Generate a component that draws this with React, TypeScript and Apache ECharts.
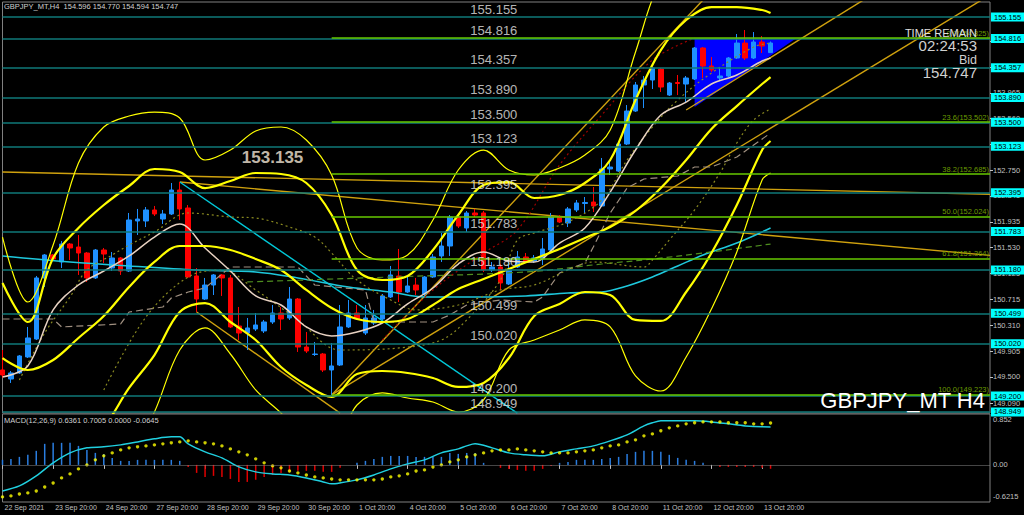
import React, { useEffect, useRef } from 'react';
import * as echarts from 'echarts';

// ---------- data ----------
const tickLabels = ['22 Sep 2021', '23 Sep 20:00', '24 Sep 20:00', '27 Sep 20:00', '28 Sep 20:00', '29 Sep 20:00', '30 Sep 20:00', '1 Oct 20:00', '4 Oct 20:00', '5 Oct 20:00', '6 Oct 20:00', '7 Oct 20:00', '8 Oct 20:00', '11 Oct 20:00', '12 Oct 20:00', '13 Oct 20:00'];
const barsPerTick = 6;
const slotCount = 118;

const opens = [149.609, 149.467, 149.562, 149.813, 150.096, 151.055, 151.416, 151.306, 151.588, 151.541, 151.447, 151.055, 151.494, 151.211, 151.369, 151.164, 151.950, 151.950, 152.123, 151.981, 152.060, 152.437, 152.154, 151.086, 150.724, 150.944, 151.102, 151.055, 150.300, 150.190, 150.253, 150.222, 150.363, 150.504, 150.426, 150.724, 149.970, 149.852, 149.860, 149.609, 149.687, 150.285, 150.504, 150.190, 150.347, 150.410, 150.756, 151.086, 150.834, 150.944, 150.803, 151.070, 151.400, 151.557, 152.013, 151.840, 152.076, 152.076, 151.180, 151.227, 150.960, 151.227, 151.384, 151.321, 151.353, 151.494, 152.013, 151.918, 152.123, 152.225, 152.248, 152.186, 152.767, 152.735, 153.160, 153.678, 154.087, 154.165, 154.338, 153.929, 154.126, 154.102, 154.181, 154.668, 154.385, 154.197, 154.228, 154.511, 154.746, 154.511, 154.762, 154.596];
const highs = [149.923, 149.593, 149.844, 150.285, 151.086, 151.431, 151.431, 151.636, 151.604, 151.730, 151.463, 151.510, 151.526, 151.463, 151.384, 152.076, 152.139, 152.170, 152.186, 152.123, 152.547, 152.563, 152.201, 151.211, 151.055, 151.117, 151.117, 151.102, 150.599, 150.426, 150.504, 150.395, 150.630, 150.599, 150.913, 150.740, 150.206, 150.049, 149.876, 150.033, 150.630, 150.709, 150.630, 150.630, 150.552, 150.803, 151.243, 151.510, 151.070, 151.055, 151.086, 151.431, 151.761, 152.044, 152.076, 152.107, 152.139, 152.107, 151.306, 151.274, 151.369, 151.479, 151.447, 151.416, 151.683, 152.076, 152.044, 152.170, 152.280, 152.327, 152.484, 152.940, 152.908, 153.175, 153.772, 154.134, 154.228, 154.369, 154.354, 154.134, 154.244, 154.228, 154.684, 154.684, 154.527, 154.369, 154.527, 154.888, 154.951, 154.919, 154.856, 154.770];
const lows = [149.483, 149.405, 149.546, 149.797, 150.080, 150.913, 151.337, 151.211, 151.337, 151.102, 150.992, 151.039, 151.290, 151.164, 151.102, 151.149, 151.730, 151.855, 152.028, 151.903, 152.044, 151.966, 151.055, 150.520, 150.709, 150.787, 150.772, 150.269, 150.080, 149.923, 150.222, 150.190, 150.332, 150.237, 150.395, 149.892, 149.876, 149.829, 149.577, 149.217, 149.672, 150.269, 150.395, 150.159, 150.316, 150.395, 150.740, 150.677, 150.819, 150.787, 150.772, 151.055, 151.306, 151.400, 151.840, 151.777, 152.013, 151.149, 151.149, 150.866, 150.944, 151.211, 151.290, 151.290, 151.259, 151.463, 151.918, 151.855, 152.091, 152.076, 152.091, 152.170, 152.673, 152.720, 153.144, 153.663, 153.725, 154.024, 153.977, 153.914, 153.929, 153.804, 154.165, 154.197, 154.291, 154.165, 154.212, 154.495, 154.479, 154.495, 154.589, 154.594];
const closes = [149.530, 149.562, 149.829, 150.112, 151.055, 151.416, 151.353, 151.588, 151.526, 151.447, 151.055, 151.494, 151.431, 151.369, 151.164, 151.966, 151.981, 152.123, 152.060, 152.060, 152.437, 152.139, 151.070, 150.724, 150.944, 151.102, 151.055, 150.285, 150.190, 150.269, 150.316, 150.363, 150.504, 150.410, 150.724, 149.970, 149.907, 149.860, 149.609, 149.672, 150.285, 150.504, 150.410, 150.426, 150.426, 150.772, 151.102, 150.834, 150.929, 150.866, 151.070, 151.384, 151.557, 152.013, 151.871, 152.076, 152.044, 151.180, 151.227, 150.976, 151.180, 151.384, 151.306, 151.369, 151.510, 152.013, 151.934, 152.139, 152.233, 152.241, 152.186, 152.767, 152.798, 153.160, 153.678, 154.087, 154.165, 154.354, 154.055, 154.118, 154.110, 154.197, 154.668, 154.385, 154.322, 154.228, 154.511, 154.746, 154.511, 154.762, 154.699, 154.747];

// Bollinger-type bands, read every 3 bars
const bbIdx = [0, 3, 6, 9, 12, 15, 18, 21, 24, 27, 30, 33, 36, 39, 42, 45, 48, 51, 54, 57, 60, 63, 66, 69, 72, 75, 78, 81, 84, 87, 90, 91];
const bbMid = [149.797, 149.609, 149.766, 150.112, 150.457, 150.913, 151.306, 151.557, 151.557, 151.494, 151.353, 151.180, 150.866, 150.583, 150.410, 150.363, 150.410, 150.630, 150.881, 151.039, 151.196, 151.353, 151.510, 151.683, 151.855, 152.107, 152.468, 152.908, 153.395, 153.756, 154.102, 154.212];
const bbUp2 = [150.976, 150.363, 151.369, 151.840, 152.201, 152.500, 152.767, 152.720, 152.468, 152.578, 152.704, 152.688, 152.547, 152.044, 151.180, 151.023, 151.086, 151.494, 152.044, 152.515, 152.563, 152.311, 152.358, 152.547, 152.908, 153.851, 154.636, 155.108, 155.312, 155.312, 155.265, 155.218];
const bbLow2 = [148.619, 148.855, 148.320, 148.383, 148.713, 149.327, 149.844, 150.520, 150.661, 150.363, 150.080, 149.656, 149.373, 149.185, 149.546, 149.593, 149.562, 149.483, 149.342, 149.405, 149.797, 150.457, 150.646, 150.834, 150.787, 150.395, 150.379, 150.834, 151.447, 152.201, 153.065, 153.207];
const bbUp3 = [151.698, 150.677, 151.573, 152.861, 153.427, 153.600, 153.662, 153.568, 152.908, 153.065, 153.364, 153.427, 153.222, 152.673, 151.526, 151.337, 151.416, 151.966, 152.751, 153.065, 152.751, 152.673, 152.783, 152.987, 153.380, 154.605, 155.736, 156.050, 156.208, 156.129, 155.736, 155.721];
const bbLow3 = [147.896, 148.541, 147.959, 147.347, 147.503, 148.211, 148.949, 149.923, 150.269, 149.860, 149.295, 148.933, 148.509, 148.415, 149.059, 149.248, 149.169, 149.106, 148.949, 149.138, 149.923, 150.080, 150.237, 150.395, 150.285, 149.515, 149.279, 149.813, 150.567, 151.463, 152.594, 152.704];
const fastMa = [149.499, 149.672, 150.552, 150.944, 151.164, 151.400, 151.698, 151.903, 151.526, 151.164, 150.772, 150.630, 150.285, 150.143, 150.206, 150.347, 150.646, 150.897, 151.274, 151.463, 151.321, 151.306, 151.604, 151.840, 152.405, 153.065, 153.615, 153.819, 154.102, 154.244, 154.464, 154.511];

const slowMaIdx = [0, 8, 15, 23, 30, 35, 41, 46, 50, 55, 62, 67, 71, 74, 77, 80, 83, 87, 91];
const slowMa = [151.400, 151.306, 151.243, 151.180, 151.149, 151.055, 150.913, 150.834, 150.756, 150.756, 150.772, 150.819, 150.834, 150.929, 151.070, 151.243, 151.416, 151.604, 151.840];
const greenMaIdx = [29, 46, 62, 71, 77, 83, 91];
const greenMa = [150.992, 151.070, 151.149, 151.274, 151.353, 151.447, 151.588];
const stepLineIdx = [0, 6, 7, 14, 15, 19, 20, 22, 24, 27, 35, 37, 43, 44, 51, 53, 55, 59, 63, 64, 66, 69, 70, 72, 74, 76, 80, 82, 84, 87, 91];
const stepLine = [150.410, 150.410, 150.285, 150.332, 150.520, 150.599, 150.740, 150.834, 150.897, 151.227, 151.227, 150.944, 150.866, 150.363, 150.363, 150.473, 150.630, 150.709, 150.677, 150.756, 151.133, 151.290, 151.541, 152.076, 152.468, 152.610, 152.657, 152.798, 152.798, 152.955, 153.332];
const dotAIdx = [2, 5, 8, 10, 13, 15, 18, 22, 27, 30, 34, 37, 39, 42, 46, 49, 54, 59, 63, 67, 70, 76, 77, 79, 82, 85, 87, 89, 91];
const dotA = [149.452, 150.190, 150.756, 151.180, 151.416, 151.573, 151.777, 152.076, 152.013, 151.997, 151.855, 151.698, 151.447, 151.023, 150.709, 150.552, 150.630, 150.866, 150.944, 151.180, 151.306, 151.227, 151.337, 151.651, 152.123, 152.704, 153.175, 153.537, 153.710];
const dotBIdx = [12, 17, 22, 26, 30, 35, 40, 47, 52, 55, 59, 61, 63, 67, 71, 74, 77, 80, 84, 89, 91];
const dotB = [149.295, 150.442, 151.070, 151.180, 150.866, 150.395, 149.923, 149.955, 150.080, 150.395, 151.023, 151.651, 151.761, 151.934, 152.280, 152.908, 153.427, 153.851, 154.275, 154.684, 154.746];
const redDotIdx = [45, 51, 57, 61, 66, 71, 77, 82];
const redDot = [150.080, 150.866, 151.447, 151.808, 152.830, 153.615, 154.479, 154.825];

// horizontal levels, fibonacci
const levels = [155.155, 154.816, 154.357, 153.890, 153.500, 153.123, 152.395, 151.783, 151.180, 150.499, 150.020, 149.200, 148.949];
const fibRatios = [0.0, 23.6, 38.2, 50.0, 61.8, 100.0];
const fibPrices = [154.825, 153.502, 152.685, 152.024, 151.364, 149.223];
const fibStartIdx = 39;
const bidPrice = 154.747;

// trendlines: [x0, y0, x1, y1]
const goldLines = [
  [0, 152.720, 117, 152.370],
  [21, 152.563, 117, 151.410],
  [39, 149.217, 115.8, 155.422],
  [39, 149.217, 82.6, 155.422],
  [23, 150.520, 39.5, 148.930],
  [80.8, 153.694, 101.5, 155.422],
];
const cyanLine = [21, 152.563, 60.5, 148.930];
const triIdx = [82, 94.3, 82];
const triPrice = [154.816, 154.816, 153.741];

const priceTicks = [149.090, 149.500, 149.905, 150.310, 150.715, 151.125, 151.530, 151.935, 152.345, 152.750, 153.155, 153.560, 153.965, 154.370, 154.780];
const yMin = 148.933;
const yMax = 155.391;

// MACD pane
const macdMin = -0.6215;
const macdMax = 0.852;
const macdLabelInset = 0.085;
const macdIdx = [0, 2, 4, 6, 8, 10, 12, 14, 16, 18, 20, 21, 22, 24, 26, 28, 30, 32, 34, 36, 38, 39, 40, 42, 44, 46, 48, 50, 52, 54, 55, 56, 58, 60, 62, 64, 66, 68, 70, 72, 74, 76, 77, 78, 80, 82, 84, 86, 88, 90, 91];
const macdMain = [-0.436, -0.352, -0.184, 0.034, 0.201, 0.285, 0.302, 0.335, 0.385, 0.436, 0.469, 0.469, 0.352, 0.218, 0.117, -0.034, -0.117, -0.151, -0.168, -0.218, -0.285, -0.318, -0.302, -0.251, -0.168, -0.067, 0.017, 0.084, 0.201, 0.268, 0.318, 0.352, 0.285, 0.201, 0.168, 0.151, 0.218, 0.268, 0.318, 0.402, 0.503, 0.653, 0.704, 0.737, 0.737, 0.737, 0.720, 0.687, 0.653, 0.637, 0.636];
const macdSignal = [-0.536, -0.519, -0.486, -0.469, -0.436, -0.369, -0.302, -0.218, -0.151, -0.067, 0.000, 0.084, 0.151, 0.201, 0.251, 0.285, 0.302, 0.318, 0.335, 0.352, 0.369, 0.385, 0.402, 0.385, 0.369, 0.352, 0.318, 0.268, 0.218, 0.168, 0.101, 0.034, -0.017, -0.050, -0.101, -0.134, -0.168, -0.201, -0.218, -0.235, -0.251, -0.251, -0.251, -0.251, -0.251, -0.235, -0.201, -0.184, -0.151, -0.101, -0.084, -0.034, 0.000, 0.050, 0.084, 0.134, 0.168, 0.201, 0.235, 0.251, 0.251, 0.268, 0.251, 0.235, 0.218, 0.201, 0.201, 0.201, 0.218, 0.235, 0.251, 0.285, 0.318, 0.335, 0.385, 0.419, 0.486, 0.519, 0.570, 0.620, 0.653, 0.687, 0.704, 0.720, 0.720, 0.720, 0.704, 0.704, 0.704, 0.687, 0.687, 0.700];
const macdHist = [0.084, 0.1, 0.134, 0.168, 0.235, 0.352, 0.369, 0.369, 0.369, 0.318, 0.251, 0.201, 0.184, 0.117, 0.067, 0.067, 0.084, 0.084, 0.084, 0.084, 0.084, 0.067, -0.034, -0.134, -0.201, -0.184, -0.201, -0.235, -0.285, -0.285, -0.251, -0.201, -0.168, -0.134, -0.117, -0.1, -0.1, -0.1, -0.117, -0.117, -0.05, 0, 0.034, 0.067, 0.1, 0.134, 0.15, 0.15, 0.15, 0.134, 0.134, 0.134, 0.134, 0.2, 0.184, 0.2, 0.2, 0.034, 0, -0.05, -0.067, -0.084, -0.1, -0.1, -0.067, -0.017, 0.034, 0.05, 0.084, 0.084, 0.084, 0.1, 0.117, 0.134, 0.184, 0.218, 0.235, 0.235, 0.218, 0.168, 0.117, 0.084, 0.067, 0.034, 0, -0.034, -0.034, -0.034, -0.034, -0.034, -0.05, -0.065];

// texts
const headerText = 'GBPJPY_MT,H4  154.596 154.770 154.594 154.747';
const macdText = 'MACD(12,26,9) 0.6361 0.7005 0.0000 -0.0645';
const noteText = '153.135';
const noteIdx = 31.7;
const notePrice = 152.955;
const levelTextIdx = 61;

// ---------- styling ----------
const FONT = '"Liberation Sans", Arial, sans-serif';
const BULL = '#1E90FF';
const BEAR = '#FF0000';
const TEAL = '#0f7878';
const FIB = '#66c800';
const FIB_TEXT = '#6b9b00';
const YEL = '#ffff00';
const GOLD = '#cfa10e';
const AXIS_TXT = '#c0c0c0';

const pairs = (idx: number[], vals: number[]) => idx.map((k, i) => [k, vals[i]]);

const mkLine = (idx: number[], vals: number[], color: string, width: number, type: any = 'solid', z = 4, smooth: any = 0.35) => ({
  type: 'line', xAxisIndex: 0, yAxisIndex: 0, z, smooth, symbol: 'none', showSymbol: false, silent: true,
  clip: true, data: pairs(idx, vals), lineStyle: { color, width, type },
});

const buildOption = () => {
  const categories = Array.from({ length: slotCount }, (_, i) => String(i));
  const tickFn = (i: number) => i % barsPerTick === 0 && i / barsPerTick < tickLabels.length;

  const series: any[] = [];

  // horizontal levels (behind candles) with cyan axis boxes
  series.push({
    type: 'line', xAxisIndex: 0, yAxisIndex: 0, z: 1, symbol: 'none', silent: true,
    data: closes.map((c, i) => [i, c]), lineStyle: { opacity: 0 },
    markLine: {
      silent: true, symbol: 'none', animation: false, precision: 3,
      lineStyle: { color: TEAL, width: 1.5, type: 'solid' },
      label: {
        show: true, position: 'end', distance: 1, formatter: (p: any) => Number(p.value).toFixed(3),
        backgroundColor: '#00ffff', color: '#000', fontSize: 7.5, fontFamily: FONT, padding: [1, 3, 0, 3],
      },
      data: levels.map((v) => ({ yAxis: v })),
    },
  });
  // bid label (white, under the cyan boxes)
  series.push({
    type: 'line', xAxisIndex: 0, yAxisIndex: 0, z: 0.5, symbol: 'none', silent: true,
    data: [], lineStyle: { opacity: 0 },
    markLine: {
      silent: true, symbol: 'none', animation: false, precision: 3, lineStyle: { opacity: 0 },
      label: { show: true, position: 'end', distance: 1, formatter: () => bidPrice.toFixed(3), backgroundColor: '#e8e8e8', color: '#000', fontSize: 7.5, fontFamily: FONT, padding: [1, 3, 0, 3] },
      data: [{ yAxis: bidPrice }],
    },
  });
  // fibonacci
  series.push({
    type: 'line', xAxisIndex: 0, yAxisIndex: 0, z: 1.2, symbol: 'none', silent: true,
    data: [], lineStyle: { opacity: 0 },
    markLine: {
      silent: true, symbol: 'none', animation: false, precision: 3,
      lineStyle: { color: FIB, width: 1.5, type: 'solid' },
      label: { show: true, position: 'insideEndTop', distance: 1, formatter: '{b}', color: FIB_TEXT, fontSize: 7.5, fontFamily: FONT },
      data: fibRatios.map((r, i) => [
        { name: `${r.toFixed(1)}(${fibPrices[i].toFixed(3)})`, coord: [fibStartIdx, fibPrices[i]] },
        { coord: [slotCount - 1, fibPrices[i]] },
      ]),
    },
  });
  // blue triangle
  series.push({
    type: 'custom', xAxisIndex: 0, yAxisIndex: 0, z: 1.5, silent: true, data: [0],
    renderItem: (_p: any, api: any) => ({
      type: 'polygon',
      shape: { points: triIdx.map((k, i) => api.coord([k, triPrice[i]])) },
      style: { fill: '#0000ff' },
    }),
  });
  // trendlines
  goldLines.forEach((l) => series.push(mkLine([l[0], l[2]], [l[1], l[3]], GOLD, 1.4, 'solid', 2, false)));
  series.push(mkLine([cyanLine[0], cyanLine[2]], [cyanLine[1], cyanLine[3]], '#00c8d8', 1.4, 'solid', 2, false));

  // candles
  series.push({
    type: 'candlestick', xAxisIndex: 0, yAxisIndex: 0, z: 3, barWidth: 5, silent: true,
    data: opens.map((o, i) => [o, closes[i], lows[i], highs[i]]),
    itemStyle: { color: BULL, color0: BEAR, borderColor: BULL, borderColor0: BEAR, borderWidth: 1 },
  });

  // indicators
  series.push(mkLine(slowMaIdx, slowMa, '#1ec8dc', 1.6));
  series.push(mkLine(greenMaIdx, greenMa, '#4f8f1f', 1.2, [6, 4]));
  series.push(mkLine(stepLineIdx, stepLine, '#a09080', 1.2, [7, 4], 4, false));
  series.push(mkLine(dotAIdx, dotA, '#8a8a20', 1.2, [2, 3]));
  series.push(mkLine(dotBIdx, dotB, '#8a8a20', 1.2, [2, 3]));
  series.push(mkLine(redDotIdx, redDot, '#a00000', 1.2, [2, 3]));
  series.push(mkLine(bbIdx, fastMa, '#e8d2c2', 1.5));
  series.push(mkLine(bbIdx, bbUp3, YEL, 1.2));
  series.push(mkLine(bbIdx, bbLow3, YEL, 1.2));
  series.push(mkLine(bbIdx, bbUp2, YEL, 2.2));
  series.push(mkLine(bbIdx, bbLow2, YEL, 2.2));
  series.push(mkLine(bbIdx, bbMid, YEL, 2.2));

  // level texts inside chart
  series.push({
    type: 'scatter', xAxisIndex: 0, yAxisIndex: 0, z: 6, silent: true, symbolSize: 1,
    itemStyle: { color: 'transparent' },
    data: levels.map((v) => [levelTextIdx, v]),
    label: { show: true, position: 'top', align: 'right', distance: 1, formatter: (p: any) => p.value[1].toFixed(3), color: '#e6e6e6', fontSize: 13, fontFamily: FONT },
  });
  series.push({
    type: 'scatter', xAxisIndex: 0, yAxisIndex: 0, z: 6, silent: true, symbolSize: 1,
    itemStyle: { color: 'transparent' },
    data: [[noteIdx, notePrice]],
    label: { show: true, position: 'inside', formatter: noteText, color: '#f6ead8', fontSize: 17, fontWeight: 'bold', fontFamily: FONT },
  });

  // MACD
  series.push({
    type: 'bar', xAxisIndex: 1, yAxisIndex: 1, barWidth: 1.5, silent: true, z: 2,
    data: macdHist.map((v) => ({ value: v, itemStyle: { color: v >= 0 ? '#2a7de0' : '#e00000' } })),
    markLine: { silent: true, symbol: 'none', label: { show: false }, lineStyle: { color: '#8a8a8a', type: 'dotted', width: 1 }, data: [{ yAxis: 0 }] },
  });
  series.push({
    type: 'line', xAxisIndex: 1, yAxisIndex: 1, z: 3, smooth: 0.3, symbol: 'none', silent: true,
    data: pairs(macdIdx, macdMain), lineStyle: { color: '#20d0e0', width: 1.5 },
  });
  series.push({
    type: 'scatter', xAxisIndex: 1, yAxisIndex: 1, z: 4, silent: true, symbol: 'circle', symbolSize: 3.4,
    data: macdSignal.map((v, i) => [i, v]), itemStyle: { color: YEL },
  });

  return {
    animation: false,
    backgroundColor: '#000000',
    grid: [
      { left: 2.5, top: 2, width: 987.5, height: 411, show: true, borderColor: '#808080', borderWidth: 1, backgroundColor: 'transparent' },
      { left: 2.5, top: 414, width: 987.5, height: 88, show: true, borderColor: '#808080', borderWidth: 1, backgroundColor: 'transparent' },
    ],
    xAxis: [
      { type: 'category', gridIndex: 0, data: categories, boundaryGap: false, axisLine: { show: false }, axisTick: { show: false }, axisLabel: { show: false }, splitLine: { show: false } },
      {
        type: 'category', gridIndex: 1, data: categories, boundaryGap: false, axisLine: { show: false },
        axisTick: { show: true, interval: tickFn, length: 4, lineStyle: { color: AXIS_TXT } },
        axisLabel: { interval: tickFn, formatter: (_v: any, i: number) => tickLabels[i / barsPerTick] ?? '', color: AXIS_TXT, fontSize: 7, fontFamily: FONT, align: 'left', margin: 2, padding: [0, 0, 0, 2] },
        splitLine: { show: false },
      },
    ],
    yAxis: [
      {
        type: 'value', gridIndex: 0, position: 'right', min: yMin, max: yMax, splitLine: { show: false }, axisLine: { show: false },
        axisTick: { show: true, customValues: priceTicks, length: 3, lineStyle: { color: AXIS_TXT } },
        axisLabel: { customValues: priceTicks, formatter: (v: number) => v.toFixed(3), color: AXIS_TXT, fontSize: 7.5, fontFamily: FONT, margin: 3 },
      },
      {
        type: 'value', gridIndex: 1, position: 'right', min: macdMin, max: macdMax, splitLine: { show: false }, axisLine: { show: false },
        axisTick: { show: false },
        axisLabel: {
          customValues: [macdMax - macdLabelInset, 0, macdMin + macdLabelInset],
          formatter: (v: number) => (v > 0 ? String(macdMax) : v < 0 ? String(macdMin) : '0.00'),
          color: AXIS_TXT, fontSize: 7.5, fontFamily: FONT, margin: 3,
        },
      },
    ],
    graphic: [
      { type: 'text', x: 4, y: 2, silent: true, style: { text: headerText, fill: '#d0d0d0', font: `7.5px ${FONT}`, textAlign: 'left', textVerticalAlign: 'top' } },
      { type: 'text', x: 4, y: 416, silent: true, style: { text: macdText, fill: '#d0d0d0', font: `7.5px ${FONT}`, textAlign: 'left', textVerticalAlign: 'top' } },
      { type: 'text', x: 977, y: 27, silent: true, z: 10, style: { text: 'TIME REMAIN', fill: '#e0e0e0', font: `11px ${FONT}`, textAlign: 'right', textVerticalAlign: 'top' } },
      { type: 'text', x: 977, y: 38, silent: true, z: 10, style: { text: '02:24:53', fill: '#d0d0d0', font: `15px ${FONT}`, textAlign: 'right', textVerticalAlign: 'top' } },
      { type: 'text', x: 977, y: 53, silent: true, z: 10, style: { text: 'Bid', fill: '#d0d0d0', font: `12.5px ${FONT}`, textAlign: 'right', textVerticalAlign: 'top' } },
      { type: 'text', x: 977, y: 65, silent: true, z: 10, style: { text: '154.747', fill: '#d0d0d0', font: `15px ${FONT}`, textAlign: 'right', textVerticalAlign: 'top' } },
      { type: 'text', x: 985, y: 389, silent: true, z: 10, style: { text: 'GBPJPY_MT H4', fill: '#ffffff', font: `22px ${FONT}`, textAlign: 'right', textVerticalAlign: 'top' } },
    ],
    series,
  };
};

export default function App() {
  const ref = useRef<HTMLDivElement>(null);
  useEffect(() => {
    if (!ref.current) return;
    const chart = echarts.init(ref.current, null, { renderer: 'svg' });
    chart.setOption(buildOption() as any);
    return () => chart.dispose();
  }, []);
  return <div ref={ref} style={{ position: 'fixed', left: 0, top: 0, width: 1024, height: 515, background: '#000' }} />;
}
